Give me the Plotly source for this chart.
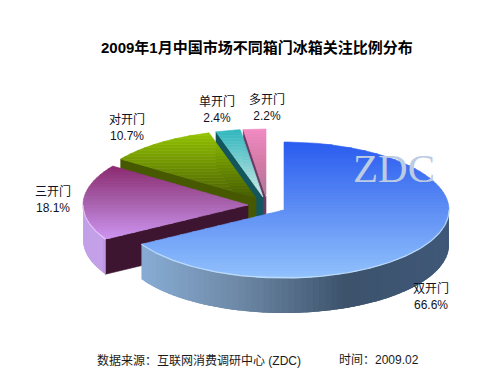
import numpy as np
import plotly.graph_objects as go

categories = ["双开门", "三开门", "对开门", "单开门", "多开门"]
values = [66.6, 18.1, 10.7, 2.4, 2.2]
title_text = "2009年1月中国市场不同箱门冰箱关注比例分布"
source_text = "数据来源：互联网消费调研中心 (ZDC)"
time_text = "时间：2009.02"

RX, RY, DEPTH = 165.0, 68.0, 35.0
centers = [(284, 210), (248, 205), (256, 198), (263, 197), (266, 197)]
top_stops = [
    ["#2a5cf0", "#5f8ff5", "#92c2fd"],
    ["#8c2a70", "#a862ad", "#cf95f2"],
    ["#93c400", "#6f9200", "#4a6000"],
    ["#2fb6be", "#7fd0d2", "#d2f0ee"],
    ["#f28cc4", "#d47ca8", "#b07a98"],
]
face_colors = ["#3f556f", "#3e1530", "#465800", "#14565e", "#6b3a63"]
side_stops = [
    ["#8db4de", "#6f8aa8", "#3d536c", "#40597a"],
    ["#b98ae0", "#c3a0e8", "#c3a0e8", "#c3a0e8"],
]
label_pos = [(431, 296), (53, 199), (127, 127), (217, 109), (267, 107)]

fig = go.Figure()


def hex2rgb(h):
    return np.array([int(h[i:i + 2], 16) for i in (1, 3, 5)], float)


def grad(stops, t):
    t = min(max(t, 0), 1) * (len(stops) - 1)
    i = min(int(t), len(stops) - 2)
    c = hex2rgb(stops[i]) * (1 - (t - i)) + hex2rgb(stops[i + 1]) * (t - i)
    return "rgb(%d,%d,%d)" % tuple(c)


def arc(c, a0, a1, n=160):
    a = np.radians(np.linspace(a0, a1, n))
    return c[0] + RX * np.sin(a), c[1] - RY * np.cos(a)


def clip(pts, y0, keep_below):
    out = []
    inside = (lambda p: p[1] >= y0) if keep_below else (lambda p: p[1] <= y0)
    for i in range(len(pts)):
        p, q = pts[i], pts[(i + 1) % len(pts)]
        if inside(p):
            out.append(p)
        if inside(p) != inside(q):
            s = (y0 - p[1]) / (q[1] - p[1])
            out.append((p[0] + s * (q[0] - p[0]), y0))
    return out


def poly(xs, ys, color, lw=0.6):
    fig.add_trace(go.Scatter(x=list(xs) + [xs[0]], y=list(ys) + [ys[0]], mode="lines",
                             fill="toself", fillcolor=color,
                             line=dict(color=color, width=lw), hoverinfo="skip",
                             showlegend=False))


bounds = np.concatenate([[0], np.cumsum(values)]) / sum(values) * 360
for k in range(len(values) - 1, -1, -1):
    c = centers[k]
    a0, a1 = bounds[k], bounds[k + 1]
    sx, sy = arc(c, a0, a1)
    # flat cut face on the starting edge
    if k > 0:
        px, py = c[0] + RX * np.sin(np.radians(a0)), c[1] - RY * np.cos(np.radians(a0))
        poly([c[0], px, px, c[0]], [c[1], py, py + DEPTH, c[1] + DEPTH], face_colors[k])
    # curved outer wall, front half only; each strip overlaps the next to hide seams
    lo, hi = max(a0, 90), min(a1, 270)
    if hi > lo and k < len(side_stops):
        edges = np.linspace(lo, hi, 70 if k == 0 else 14)
        xmin, xmax = c[0] - RX, c[0] + RX
        if k == 1:
            xmin, xmax = c[0] - RX * np.sin(np.radians(a0 - 180)) * 1.0, c[0] - RX
        overlap = (edges[1] - edges[0]) * 1.2
        for e0, e1 in zip(edges[:-1], edges[1:]):
            ax, ay = arc(c, max(e0 - overlap, lo), e1, 8)
            t = (arc(c, e0, e1, 5)[0].mean() - xmin) / (xmax - xmin)
            poly(list(ax) + list(ax[::-1]), list(ay) + list(ay[::-1] + DEPTH),
                 grad(side_stops[k], t), lw=0)
    # top face, vertical gradient in thin bands
    pts = [(c[0], c[1])] + list(zip(sx, sy))
    ys = [p[1] for p in pts]
    ymin, ymax = min(ys), max(ys)
    steps = np.arange(ymin, ymax + 3, 3)
    for y0, y1 in zip(steps[:-1], steps[1:]):
        band = clip(clip(pts, y0, True), y1, False)
        if len(band) > 2:
            poly([p[0] for p in band], [p[1] for p in band],
                 grad(top_stops[k], ((y0 + y1) / 2 - ymin) / (ymax - ymin)))
    # pale rim highlight along the front edge
    if hi > lo:
        hx, hy = arc(c, lo, hi)
        fig.add_trace(go.Scatter(x=hx, y=hy, mode="lines", hoverinfo="skip", showlegend=False,
                                 line=dict(color="rgba(205,232,255,0.75)" if k == 0 else "rgba(235,210,255,0.8)",
                                           width=1.2)))

F = "Liberation Sans, Noto Sans CJK SC, sans-serif"
ann = [
    dict(x=257, y=47, text="<b>%s</b>" % title_text, font=dict(size=15, color="#000000", family=F)),
    dict(x=199, y=360, text=source_text, font=dict(size=12, color="#1a1a1a", family=F)),
    dict(x=379, y=360, text=time_text, font=dict(size=12, color="#1a1a1a", family=F)),
    dict(x=394, y=168, text="ZDC", font=dict(size=41, color="#bccce2", family="Liberation Serif")),
]
for name, v, p in zip(categories, values, label_pos):
    ann.append(dict(x=p[0], y=p[1], text="%s<br>%.1f%%" % (name, v),
                    font=dict(size=12, color="#111122", family=F)))
for a in ann:
    a.update(xref="x", yref="y", showarrow=False, xanchor="center", yanchor="middle")

fig.update_layout(width=500, height=375, margin=dict(l=0, r=0, t=0, b=0),
                  paper_bgcolor="white", plot_bgcolor="white", showlegend=False,
                  annotations=ann,
                  xaxis=dict(range=[0, 500], visible=False, fixedrange=True),
                  yaxis=dict(range=[375, 0], visible=False, fixedrange=True))
fig.write_html("out.html", config=dict(displayModeBar=False),
               post_script="document.body.style.margin='0';")
